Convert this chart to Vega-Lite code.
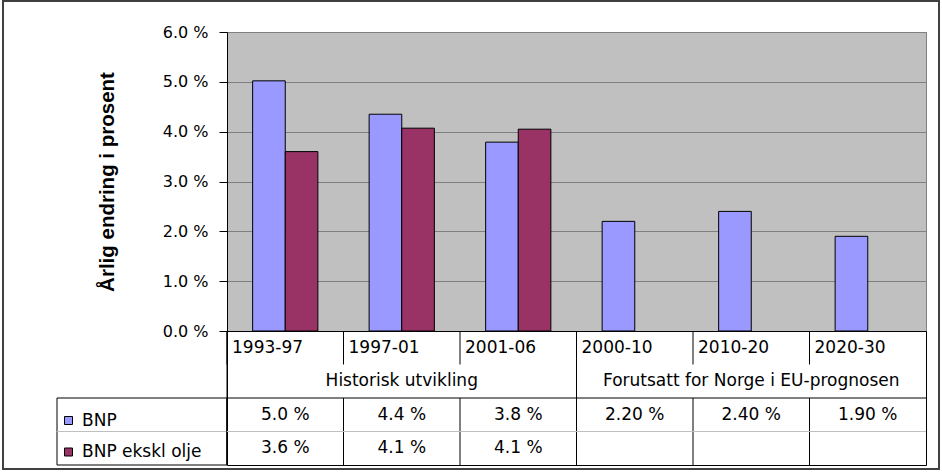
{
  "$schema": "https://vega.github.io/schema/vega-lite/v6.json",
  "background": "white",
  "padding": {"left": 2, "top": 0, "right": 2, "bottom": 2},
  "datasets": {
    "bnp": [
      {"periode": "1993-97", "serie": "BNP", "verdi": 5.02, "tekst": "5.0 %"},
      {"periode": "1993-97", "serie": "BNP ekskl olje", "verdi": 3.6, "tekst": "3.6 %"},
      {"periode": "1997-01", "serie": "BNP", "verdi": 4.35, "tekst": "4.4 %"},
      {"periode": "1997-01", "serie": "BNP ekskl olje", "verdi": 4.07, "tekst": "4.1 %"},
      {"periode": "2001-06", "serie": "BNP", "verdi": 3.79, "tekst": "3.8 %"},
      {"periode": "2001-06", "serie": "BNP ekskl olje", "verdi": 4.05, "tekst": "4.1 %"},
      {"periode": "2000-10", "serie": "BNP", "verdi": 2.2, "tekst": "2.20 %"},
      {"periode": "2010-20", "serie": "BNP", "verdi": 2.4, "tekst": "2.40 %"},
      {"periode": "2020-30", "serie": "BNP", "verdi": 1.9, "tekst": "1.90 %"}
    ],
    "perioder": [
      {"periode": "1993-97", "gruppe": "Historisk utvikling"},
      {"periode": "1997-01", "gruppe": "Historisk utvikling"},
      {"periode": "2001-06", "gruppe": "Historisk utvikling"},
      {"periode": "2000-10", "gruppe": "Forutsatt for Norge i EU-prognosen"},
      {"periode": "2010-20", "gruppe": "Forutsatt for Norge i EU-prognosen"},
      {"periode": "2020-30", "gruppe": "Forutsatt for Norge i EU-prognosen"}
    ],
    "grupper": [
      {"gruppe": "Historisk utvikling", "start": "1993-97"},
      {"gruppe": "Forutsatt for Norge i EU-prognosen", "start": "2000-10"}
    ],
    "rader": [
      {"serie": "BNP"},
      {"serie": "BNP ekskl olje"}
    ]
  },
  "columns": 6,
  "spacing": 0,
  "bounds": "flush",
  "concat": [
    {"width": 2, "height": 2, "data": {"values": []}, "mark": "point", "view": {"fill": "#404040"}},
    {"width": 53, "height": 2, "data": {"values": []}, "mark": "point", "view": {"fill": "#404040"}},
    {"width": 170, "height": 2, "data": {"values": []}, "mark": "point", "view": {"fill": "#404040"}},
    {"width": 699, "height": 2, "data": {"values": []}, "mark": "point", "view": {"fill": "#404040"}},
    {"width": 12, "height": 2, "data": {"values": []}, "mark": "point", "view": {"fill": "#404040"}},
    {"width": 2, "height": 2, "data": {"values": []}, "mark": "point", "view": {"fill": "#404040"}},

    {"width": 2, "height": 30, "data": {"values": []}, "mark": "point", "view": {"fill": "#404040"}},
    {"width": 53, "height": 30, "data": {"values": []}, "mark": "point"},
    {"width": 170, "height": 30, "data": {"values": []}, "mark": "point"},
    {"width": 699, "height": 30, "data": {"values": []}, "mark": "point"},
    {"width": 12, "height": 30, "data": {"values": []}, "mark": "point"},
    {"width": 2, "height": 30, "data": {"values": []}, "mark": "point", "view": {"fill": "#404040"}},

    {"width": 2, "height": 299, "data": {"values": []}, "mark": "point", "view": {"fill": "#404040"}},
    {"width": 53, "height": 299, "data": {"values": []}, "mark": "point"},
    {"width": 170, "height": 299, "data": {"values": []}, "mark": "point"},
    {
      "width": 699,
      "height": 299,
      "data": {"name": "bnp"},
      "view": {"fill": "#C0C0C0", "stroke": "#808080", "strokeWidth": 1},
      "mark": {"type": "bar", "stroke": "#000000", "strokeWidth": 1},
      "encoding": {
        "x": {
          "field": "periode", "type": "nominal", "sort": null,
          "scale": {"domain": ["1993-97", "1997-01", "2001-06", "2000-10", "2010-20", "2020-30"], "paddingInner": 0.44, "paddingOuter": 0.22},
          "axis": null
        },
        "xOffset": {
          "field": "serie", "type": "nominal",
          "scale": {"domain": ["BNP", "BNP ekskl olje"], "paddingInner": 0, "paddingOuter": 0}
        },
        "y": {
          "field": "verdi", "type": "quantitative",
          "scale": {"domain": [0, 6], "nice": false, "zero": true},
          "axis": {
            "title": "Årlig endring i prosent",
            "values": [0, 1, 2, 3, 4, 5, 6],
            "labelExpr": "format(datum.value, '.1f') + ' %'",
            "labelFont": "DejaVu Sans",
            "labelFontSize": 16,
            "labelColor": "#000000",
            "labelPadding": 11,
            "tickSize": 8,
            "tickColor": "#000000",
            "domainColor": "#000000",
            "grid": true,
            "gridColor": "#808080",
            "gridOpacity": 1,
            "titleFont": "Liberation Sans",
            "titleFontSize": 20.5,
            "titleFontWeight": "bold",
            "titleColor": "#000000",
            "titlePadding": 45
          }
        },
        "color": {
          "field": "serie", "type": "nominal",
          "scale": {"domain": ["BNP", "BNP ekskl olje"], "range": ["#9999FF", "#993366"]},
          "legend": {
            "orient": "none",
            "legendX": 58,
            "legendY": 412,
            "title": null,
            "padding": 0,
            "symbolType": "square",
            "symbolSize": 64,
            "symbolStrokeColor": "#000000",
            "symbolStrokeWidth": 1,
            "symbolOpacity": 1,
            "labelFont": "DejaVu Sans",
            "labelFontSize": 17,
            "labelColor": "#000000",
            "labelOffset": 5,
            "rowPadding": 13.5,
            "labelLimit": 200
          }
        }
      }
    },
    {"width": 12, "height": 299, "data": {"values": []}, "mark": "point"},
    {"width": 2, "height": 299, "data": {"values": []}, "mark": "point", "view": {"fill": "#404040"}},

    {"width": 2, "height": 134, "data": {"values": []}, "mark": "point", "view": {"fill": "#404040"}},
    {"width": 53, "height": 134, "data": {"values": []}, "mark": "point"},
    {
      "width": 170,
      "height": 134,
      "data": {"name": "rader"},
      "layer": [
        {
          "mark": {"type": "rect", "fill": "#FFFFFF", "fillOpacity": 0, "stroke": "#000000", "strokeWidth": 1},
          "encoding": {
            "y": {
              "field": "serie", "type": "nominal",
              "scale": {"type": "band", "domain": ["kat", "gruppe", "BNP", "BNP ekskl olje"], "paddingInner": 0, "paddingOuter": 0},
              "axis": null
            }
          }
        },
        {
          "mark": {"type": "rule", "color": "#C0C0C0", "strokeWidth": 1},
          "encoding": {
            "y": {
              "datum": "BNP ekskl olje", "type": "nominal", "bandPosition": 0,
              "scale": {"type": "band", "domain": ["kat", "gruppe", "BNP", "BNP ekskl olje"], "paddingInner": 0, "paddingOuter": 0},
              "axis": null
            }
          }
        }
      ]
    },
    {
      "width": 699,
      "height": 134,
      "view": {"stroke": "#000000", "strokeWidth": 1},
      "resolve": {"scale": {"x": "independent"}},
      "layer": [
        {
          "data": {"name": "perioder"},
          "mark": {"type": "rule", "color": "#000000", "strokeWidth": 1},
          "encoding": {
            "x": {
              "field": "periode", "type": "nominal", "bandPosition": 0,
              "scale": {"type": "band", "domain": ["1993-97", "1997-01", "2001-06", "2000-10", "2010-20", "2020-30"], "paddingInner": 0, "paddingOuter": 0},
              "axis": null
            },
            "y": {
              "datum": "kat", "type": "nominal", "bandPosition": 0,
              "scale": {"type": "band", "domain": ["kat", "gruppe", "BNP", "BNP ekskl olje"], "paddingInner": 0, "paddingOuter": 0},
              "axis": null
            },
            "y2": {"datum": "gruppe", "bandPosition": 0}
          }
        },
        {
          "data": {"name": "perioder"},
          "mark": {"type": "rule", "color": "#000000", "strokeWidth": 1},
          "encoding": {
            "x": {
              "field": "periode", "type": "nominal", "bandPosition": 0,
              "scale": {"type": "band", "domain": ["1993-97", "1997-01", "2001-06", "2000-10", "2010-20", "2020-30"], "paddingInner": 0, "paddingOuter": 0},
              "axis": null
            },
            "y": {
              "datum": "BNP", "type": "nominal", "bandPosition": 0,
              "scale": {"type": "band", "domain": ["kat", "gruppe", "BNP", "BNP ekskl olje"], "paddingInner": 0, "paddingOuter": 0},
              "axis": null
            },
            "y2": {"datum": "BNP ekskl olje", "bandPosition": 1}
          }
        },
        {
          "data": {"name": "grupper"},
          "mark": {"type": "rule", "color": "#000000", "strokeWidth": 1},
          "encoding": {
            "x": {
              "field": "start", "type": "nominal", "bandPosition": 0,
              "scale": {"type": "band", "domain": ["1993-97", "1997-01", "2001-06", "2000-10", "2010-20", "2020-30"], "paddingInner": 0, "paddingOuter": 0},
              "axis": null
            }
          }
        },
        {
          "data": {"name": "rader"},
          "transform": [{"filter": "datum.serie === 'BNP'"}],
          "mark": {"type": "rule", "color": "#000000", "strokeWidth": 1},
          "encoding": {
            "y": {
              "field": "serie", "type": "nominal", "bandPosition": 0,
              "scale": {"type": "band", "domain": ["kat", "gruppe", "BNP", "BNP ekskl olje"], "paddingInner": 0, "paddingOuter": 0},
              "axis": null
            }
          }
        },
        {
          "data": {"name": "rader"},
          "transform": [{"filter": "datum.serie === 'BNP ekskl olje'"}],
          "mark": {"type": "rule", "color": "#C0C0C0", "strokeWidth": 1},
          "encoding": {
            "y": {
              "field": "serie", "type": "nominal", "bandPosition": 0,
              "scale": {"type": "band", "domain": ["kat", "gruppe", "BNP", "BNP ekskl olje"], "paddingInner": 0, "paddingOuter": 0},
              "axis": null
            }
          }
        },
        {
          "data": {"name": "perioder"},
          "mark": {"type": "text", "align": "left", "baseline": "middle", "dx": 5, "font": "DejaVu Sans", "fontSize": 17, "color": "#000000"},
          "encoding": {
            "x": {
              "field": "periode", "type": "nominal", "bandPosition": 0,
              "scale": {"type": "band", "domain": ["1993-97", "1997-01", "2001-06", "2000-10", "2010-20", "2020-30"], "paddingInner": 0, "paddingOuter": 0},
              "axis": null
            },
            "y": {
              "datum": "kat", "type": "nominal", "bandPosition": 0.5,
              "scale": {"type": "band", "domain": ["kat", "gruppe", "BNP", "BNP ekskl olje"], "paddingInner": 0, "paddingOuter": 0},
              "axis": null
            },
            "text": {"field": "periode"}
          }
        },
        {
          "data": {"name": "grupper"},
          "mark": {"type": "text", "align": "center", "baseline": "middle", "font": "DejaVu Sans", "fontSize": 17, "color": "#000000"},
          "encoding": {
            "x": {
              "field": "gruppe", "type": "nominal", "bandPosition": 0.5,
              "scale": {"type": "band", "domain": ["Historisk utvikling", "Forutsatt for Norge i EU-prognosen"], "paddingInner": 0, "paddingOuter": 0},
              "axis": null
            },
            "y": {
              "datum": "gruppe", "type": "nominal", "bandPosition": 0.5,
              "scale": {"type": "band", "domain": ["kat", "gruppe", "BNP", "BNP ekskl olje"], "paddingInner": 0, "paddingOuter": 0},
              "axis": null
            },
            "text": {"field": "gruppe"}
          }
        },
        {
          "data": {"name": "bnp"},
          "mark": {"type": "text", "align": "center", "baseline": "middle", "font": "DejaVu Sans", "fontSize": 17, "color": "#000000"},
          "encoding": {
            "x": {
              "field": "periode", "type": "nominal", "bandPosition": 0.5,
              "scale": {"type": "band", "domain": ["1993-97", "1997-01", "2001-06", "2000-10", "2010-20", "2020-30"], "paddingInner": 0, "paddingOuter": 0},
              "axis": null
            },
            "y": {
              "field": "serie", "type": "nominal", "bandPosition": 0.5,
              "scale": {"type": "band", "domain": ["kat", "gruppe", "BNP", "BNP ekskl olje"], "paddingInner": 0, "paddingOuter": 0},
              "axis": null
            },
            "text": {"field": "tekst"}
          }
        }
      ]
    },
    {"width": 12, "height": 134, "data": {"values": []}, "mark": "point"},
    {"width": 2, "height": 134, "data": {"values": []}, "mark": "point", "view": {"fill": "#404040"}},

    {"width": 2, "height": 3, "data": {"values": []}, "mark": "point", "view": {"fill": "#404040"}},
    {"width": 53, "height": 3, "data": {"values": []}, "mark": "point"},
    {"width": 170, "height": 3, "data": {"values": []}, "mark": "point"},
    {"width": 699, "height": 3, "data": {"values": []}, "mark": "point"},
    {"width": 12, "height": 3, "data": {"values": []}, "mark": "point"},
    {"width": 2, "height": 3, "data": {"values": []}, "mark": "point", "view": {"fill": "#404040"}},

    {"width": 2, "height": 2, "data": {"values": []}, "mark": "point", "view": {"fill": "#404040"}},
    {"width": 53, "height": 2, "data": {"values": []}, "mark": "point", "view": {"fill": "#404040"}},
    {"width": 170, "height": 2, "data": {"values": []}, "mark": "point", "view": {"fill": "#404040"}},
    {"width": 699, "height": 2, "data": {"values": []}, "mark": "point", "view": {"fill": "#404040"}},
    {"width": 12, "height": 2, "data": {"values": []}, "mark": "point", "view": {"fill": "#404040"}},
    {"width": 2, "height": 2, "data": {"values": []}, "mark": "point", "view": {"fill": "#404040"}}
  ],
  "config": {
    "font": "DejaVu Sans",
    "view": {"stroke": null},
    "axis": {"labelFont": "DejaVu Sans"}
  }
}
